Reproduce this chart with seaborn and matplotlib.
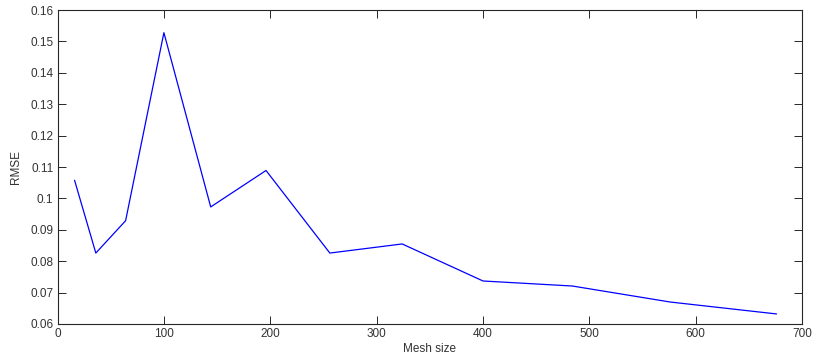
import pandas as pd
import matplotlib
matplotlib.use("Agg")
import matplotlib.pyplot as plt
import seaborn as sns

# Mesh sizes and RMSE
mesh_size = [16, 36, 64, 100, 144, 196, 256, 324, 400, 484, 576, 676]
rmse = [0.1058, 0.0826, 0.0929, 0.1528, 0.0973, 0.1089,
        0.0826, 0.0855, 0.0737, 0.0721, 0.0670, 0.0632]
x_ticks = [0, 100, 200, 300, 400, 500, 600, 700]
y_ticks = [0.06, 0.07, 0.08, 0.09, 0.1, 0.11, 0.12, 0.13, 0.14, 0.15, 0.16]
y_labels = ['0.06', '0.07', '0.08', '0.09', '0.1', '0.11', '0.12',
            '0.13', '0.14', '0.15', '0.16']

data = pd.DataFrame({'Mesh size': mesh_size, 'RMSE': rmse})

sns.set_style("ticks")
plt.rcParams['font.family'] = ['Liberation Sans', 'DejaVu Sans']

fig = plt.figure(figsize=(8.16, 3.6), dpi=100)
ax = fig.add_axes([0.0705, 0.1, 0.9125, 0.872])
sns.lineplot(data=data, x='Mesh size', y='RMSE', color='#0000ff', linewidth=0.9, ax=ax)

ax.set_xlim(0, 700)
ax.set_ylim(0.06, 0.16)
ax.set_xticks(x_ticks)
ax.set_xticklabels([str(t) for t in x_ticks])
ax.set_yticks(y_ticks)
ax.set_yticklabels(y_labels)

txt = '#333333'
ax.tick_params(direction='in', top=True, right=True, length=6, width=0.7,
               labelsize=8.5, colors='#262626', labelcolor=txt, pad=3)
for s in ax.spines.values():
    s.set_visible(True)
    s.set_linewidth(0.8)
    s.set_color('#262626')
ax.set_xlabel('Mesh size', fontsize=8.5, color=txt, labelpad=2)
ax.set_ylabel('RMSE', fontsize=8.5, color=txt, labelpad=6)

fig.savefig('out.png', dpi=100)
